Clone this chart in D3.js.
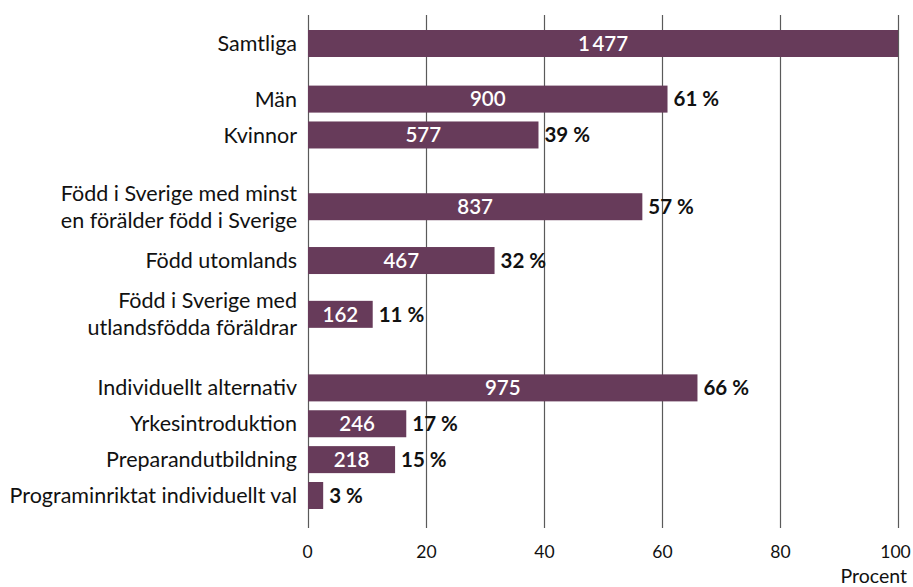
<!DOCTYPE html>
<html>
<head>
<meta charset="utf-8">
<script src="https://cdn.jsdelivr.net/npm/d3@7"></script>
<style>
  body { margin: 0; background: #fff; }
  text { font-family: Lato, "Noto Sans", sans-serif; }
</style>
</head>
<body>
<svg id="chart"></svg>
<script>
// Data
const categories = [
  "Samtliga",
  "Män",
  "Kvinnor",
  "Född i Sverige med minst\nen förälder född i Sverige",
  "Född utomlands",
  "Född i Sverige med\nutlandsfödda föräldrar",
  "Individuellt alternativ",
  "Yrkesintroduktion",
  "Preparandutbildning",
  "Programinriktat individuellt val"
];
const groupOf = [0, 1, 1, 2, 2, 2, 3, 3, 3, 3];
const counts = [1477, 900, 577, 837, 467, 162, 975, 246, 218, 38];
const percentLabels = [null, 61, 39, 57, 32, 11, 66, 17, 15, 3];
const xTicks = [0, 20, 40, 60, 80, 100];
const total = counts[0];

// Layout
const width = 913, height = 587;
const plot = { left: 308, right: 898, top: 15, bottom: 528 };
const barH = 27;
const rowSize = [1, 1, 1.5, 1];          // row spacing per group (two-line labels need more)
const groupGap = [0, 0.55, 0.75, 0.8];   // extra space before each group

// row centres in "slot" units, built from the group structure
let pos = [], cur = 0;
categories.forEach((c, i) => {
  const g = groupOf[i];
  if (i > 0) {
    const pg = groupOf[i - 1];
    cur += rowSize[pg] / 2 + rowSize[g] / 2 + (g !== pg ? groupGap[g] : 0);
  }
  pos.push(cur);
});

const svg = d3.select("#chart").attr("width", width).attr("height", height);

const x = d3.scaleLinear().domain([0, 100]).range([plot.left, plot.right]);
const y = d3.scaleLinear().domain([0, pos[pos.length - 1]]).range([43.5, 495.5]);
const share = i => counts[i] / total * 100;

// x axis + vertical grid lines
const axisX = d3.axisBottom(x)
  .tickValues(xTicks)
  .tickSize(-(plot.bottom - plot.top))
  .tickPadding(18);

const gx = svg.append("g")
  .attr("class", "x-axis")
  .attr("transform", "translate(0," + plot.bottom + ")")
  .call(axisX);
gx.select(".domain").remove();
gx.selectAll(".tick line").attr("stroke", "#5a5a5a").attr("stroke-width", 1.2);
gx.selectAll(".tick text")
  .attr("fill", "#111")
  .style("font-size", "17.5px")
  .attr("dx", d => d === 100 ? "-3" : (d === 0 ? "-1" : "0"));

svg.append("text")
  .text("Procent")
  .attr("x", 907)
  .attr("y", 583)
  .attr("text-anchor", "end")
  .attr("fill", "#111")
  .style("font-size", "19.5px");

// bars
const rows = svg.append("g").selectAll("g")
  .data(categories)
  .enter()
  .append("g");

rows.append("rect")
  .attr("x", x(0))
  .attr("y", (d, i) => y(pos[i]) - barH / 2)
  .attr("width", (d, i) => x(share(i)) - x(0))
  .attr("height", barH)
  .attr("fill", "#673b5a");

// category labels
rows.append("text")
  .attr("text-anchor", "end")
  .attr("fill", "#111")
  .style("font-size", "21.5px")
  .each(function (d, i) {
    const lines = d.split("\n");
    const t = d3.select(this);
    const lh = 27;
    lines.forEach((ln, k) => {
      t.append("tspan")
        .attr("x", 297)
        .attr("y", y(pos[i]) + (k - (lines.length - 1) / 2) * lh)
        .attr("dy", "0.35em")
        .text(ln);
    });
  });

// counts inside bars (hidden when the bar is too short)
rows.append("text")
  .attr("x", (d, i) => (x(0) + x(share(i))) / 2)
  .attr("y", (d, i) => y(pos[i]))
  .attr("dy", "0.36em")
  .attr("text-anchor", "middle")
  .attr("fill", "#fff")
  .style("font-size", "20.5px")
  .style("font-weight", "600")
  .text((d, i) => d3.format(",")(counts[i]).replace(/,/g, "\u2009"))
  .each(function (d, i) {
    const w = x(share(i)) - x(0);
    if (this.getComputedTextLength() + 8 > w) d3.select(this).remove();
  });

// percent labels
rows.filter((d, i) => percentLabels[i] != null)
  .append("text")
  .attr("x", d => x(share(categories.indexOf(d))) + 6)
  .attr("y", d => y(pos[categories.indexOf(d)]))
  .attr("dy", "0.36em")
  .attr("fill", "#111")
  .style("font-size", "20.5px")
  .style("font-weight", "700")
  .text(d => percentLabels[categories.indexOf(d)] + "\u00a0%");
</script>
</body>
</html>
